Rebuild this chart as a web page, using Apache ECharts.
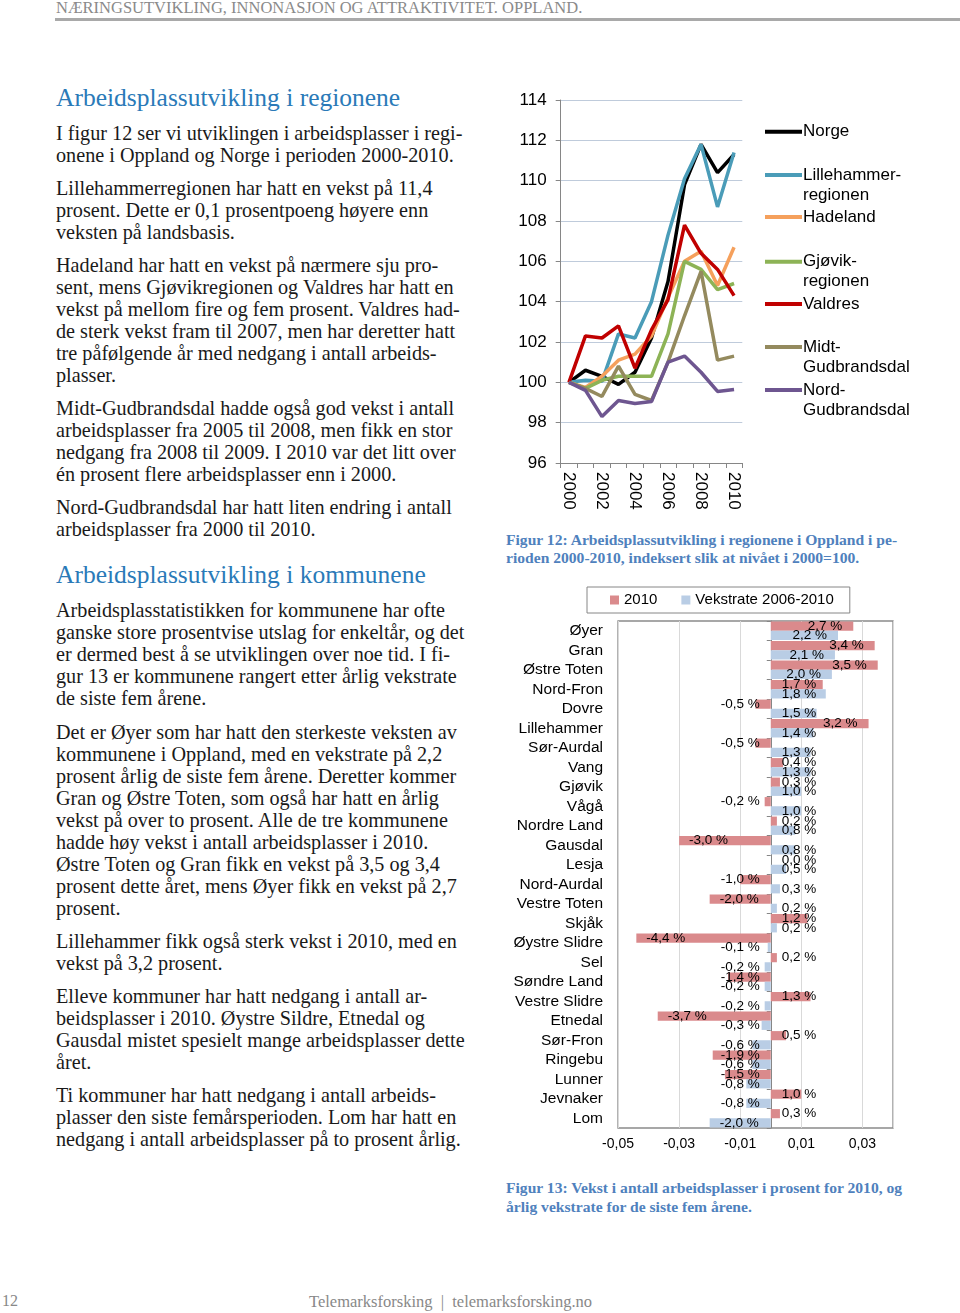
<!DOCTYPE html>
<html><head><meta charset="utf-8">
<script src="https://cdn.jsdelivr.net/npm/echarts@6/dist/echarts.min.js"></script>
<style>
body{margin:0;width:960px;height:1313px;position:relative;background:#fff;overflow:hidden}
.t{position:absolute;white-space:nowrap;font-family:"Liberation Serif","Times New Roman",serif}
.b{font-size:20.2px;line-height:22px;color:#1a1a1a;left:56px}
.h{font-size:25.5px;line-height:30px;color:#2a7ab8;left:56px}
.c{font-size:15.6px;line-height:19px;color:#4f81bd;font-weight:bold;left:506px}
#chart{position:absolute;left:0;top:0;width:960px;height:1313px}
#hdr{position:absolute;left:56px;top:-1px;font-family:"Liberation Serif",serif;font-size:16.5px;line-height:18px;color:#8a8a8a;white-space:nowrap}
#rule{position:absolute;left:55px;top:18px;width:905px;height:3px;background:#a9a9a9}
#pg{position:absolute;left:2px;top:1292px;font-family:"Liberation Serif",serif;font-size:16px;color:#888}
#ft{position:absolute;left:309px;top:1292px;font-family:"Liberation Serif",serif;font-size:16.5px;color:#888;white-space:nowrap}
</style></head><body>
<div id="hdr">NÆRINGSUTVIKLING, INNONASJON OG ATTRAKTIVITET. OPPLAND.</div>
<div id="rule"></div>
<div id="txt"></div>
<div id="pg">12</div>
<div id="ft">Telemarksforsking &nbsp;|&nbsp; telemarksforsking.no</div>
<div id="chart"></div>
<script>
// ---- Figure 12 data ----
const years = ['2000','2001','2002','2003','2004','2005','2006','2007','2008','2009','2010'];
const norge       = [100, 100.6, 100.3, 99.9, 100.5, 102.2, 105.0, 109.8, 111.8, 110.4, 111.3];
const lillehammer = [100, 100.1, 100.05, 102.4, 102.2, 104.0, 107.3, 110.1, 111.8, 108.7, 111.4];
const hadeland    = [100, 99.75, 100.3, 101.1, 101.4, 102.3, 104.2, 106.0, 106.5, 104.8, 106.7];
const gjovik      = [100, 99.7, 100.1, 100.3, 100.3, 100.3, 102.4, 106.0, 105.6, 104.6, 104.9];
const valdres     = [100, 102.3, 102.2, 102.8, 100.7, 102.6, 104.1, 107.8, 106.4, 105.6, 104.3];
const midtGud     = [100, 99.7, 99.3, 100.8, 99.4, 99.1, 101.0, 103.3, 105.5, 101.1, 101.3];
const nordGud     = [100, 99.6, 98.3, 99.1, 98.95, 99.05, 101.0, 101.3, 100.5, 99.55, 99.65];
const regionNames = ['Norge','Lillehammer-\nregionen','Hadeland','Gjøvik-\nregionen','Valdres','Midt-\nGudbrandsdal','Nord-\nGudbrandsdal'];
const regionColors = ['#000000','#4A9CB8','#F5A05C','#8DB356','#C00000','#948A5E','#6E5690'];
const regionData = [norge, lillehammer, hadeland, gjovik, valdres, midtGud, nordGud];

// ---- Figure 13 data ----
const kommuner = ['Øyer','Gran','Østre Toten','Nord-Fron','Dovre','Lillehammer','Sør-Aurdal','Vang','Gjøvik','Vågå','Nordre Land','Gausdal','Lesja','Nord-Aurdal','Vestre Toten','Skjåk','Øystre Slidre','Sel','Søndre Land','Vestre Slidre','Etnedal','Sør-Fron','Ringebu','Lunner','Jevnaker','Lom'];
const vekst2010 = [2.7, 3.4, 3.5, 1.7, -0.5, 3.2, -0.5, 0.4, 0.3, -0.2, 0.2, -3.0, 0.0, -1.0, -2.0, 1.2, -4.4, 0.2, -1.4, 1.3, -3.7, 0.5, -1.9, -1.5, 1.0, 0.3];
const vekstrate = [2.2, 2.1, 2.0, 1.8, 1.5, 1.4, 1.3, 1.3, 1.0, 1.0, 0.8, 0.8, 0.5, 0.3, 0.2, 0.2, -0.1, -0.2, -0.2, -0.2, -0.3, -0.6, -0.6, -0.8, -0.8, -2.0];

// ---- page text ----
const lines = [
 ['h',98,'Arbeidsplassutvikling i regionene'],
 ['b',133,'I figur 12 ser vi utviklingen i arbeidsplasser i regi-'],
 ['b',155,'onene i Oppland og Norge i perioden 2000-2010.'],
 ['b',188,'Lillehammerregionen har hatt en vekst på 11,4'],
 ['b',210,'prosent. Dette er 0,1 prosentpoeng høyere enn'],
 ['b',232,'veksten på landsbasis.'],
 ['b',265,'Hadeland har hatt en vekst på nærmere sju pro-'],
 ['b',287,'sent, mens Gjøvikregionen og Valdres har hatt en'],
 ['b',309,'vekst på mellom fire og fem prosent. Valdres had-'],
 ['b',331,'de sterk vekst fram til 2007, men har deretter hatt'],
 ['b',353,'tre påfølgende år med nedgang i antall arbeids-'],
 ['b',375,'plasser.'],
 ['b',408,'Midt-Gudbrandsdal hadde også god vekst i antall'],
 ['b',430,'arbeidsplasser fra 2005 til 2008, men fikk en stor'],
 ['b',452,'nedgang fra 2008 til 2009. I 2010 var det litt over'],
 ['b',474,'én prosent flere arbeidsplasser enn i 2000.'],
 ['b',507,'Nord-Gudbrandsdal har hatt liten endring i antall'],
 ['b',529,'arbeidsplasser fra 2000 til 2010.'],
 ['h',575,'Arbeidsplassutvikling i kommunene'],
 ['b',610,'Arbeidsplasstatistikken for kommunene har ofte'],
 ['b',632,'ganske store prosentvise utslag for enkeltår, og det'],
 ['b',654,'er dermed best å se utviklingen over noe tid. I fi-'],
 ['b',676,'gur 13 er kommunene rangert etter årlig vekstrate'],
 ['b',698,'de siste fem årene.'],
 ['b',732,'Det er Øyer som har hatt den sterkeste veksten av'],
 ['b',754,'kommunene i Oppland, med en vekstrate på 2,2'],
 ['b',776,'prosent årlig de siste fem årene. Deretter kommer'],
 ['b',798,'Gran og Østre Toten, som også har hatt en årlig'],
 ['b',820,'vekst på over to prosent. Alle de tre kommunene'],
 ['b',842,'hadde høy vekst i antall arbeidsplasser i 2010.'],
 ['b',864,'Østre Toten og Gran fikk en vekst på 3,5 og 3,4'],
 ['b',886,'prosent dette året, mens Øyer fikk en vekst på 2,7'],
 ['b',908,'prosent.'],
 ['b',941,'Lillehammer fikk også sterk vekst i 2010, med en'],
 ['b',963,'vekst på 3,2 prosent.'],
 ['b',996,'Elleve kommuner har hatt nedgang i antall ar-'],
 ['b',1018,'beidsplasser i 2010. Øystre Sildre, Etnedal og'],
 ['b',1040,'Gausdal mistet spesielt mange arbeidsplasser dette'],
 ['b',1062,'året.'],
 ['b',1095,'Ti kommuner har hatt nedgang i antall arbeids-'],
 ['b',1117,'plasser den siste femårsperioden. Lom har hatt en'],
 ['b',1139,'nedgang i antall arbeidsplasser på to prosent årlig.'],
 ['c',539,'Figur 12: Arbeidsplassutvikling i regionene i Oppland i pe-'],
 ['c',557,'rioden 2000-2010, indeksert slik at nivået i 2000=100.'],
 ['c',1187,'Figur 13: Vekst i antall arbeidsplasser i prosent for 2010, og'],
 ['c',1206,'årlig vekstrate for de siste fem årene.']
];
const txt = document.getElementById('txt');
const lh = {b:22, h:30, c:19};
lines.forEach(([cls, y, s]) => {
  const d = document.createElement('div');
  d.className = 't ' + cls;
  d.style.top = (y - lh[cls] / 2) + 'px';
  d.textContent = s;
  txt.appendChild(d);
});

// ---- chart ----
const FF = '"Liberation Sans", Arial, Helvetica, sans-serif';
const pct = v => (v * 100).toFixed(1).replace('.', ',') + ' %';
function barItem(p) {
  let pos, dist;
  if (p >= 0) { pos = p >= 1.85 ? 'insideRight' : 'insideLeft'; dist = 11; }
  else if (p <= -1.97) { pos = 'insideLeft'; dist = 10; }
  else { pos = 'insideRight'; dist = 11; }
  return { value: p / 100, label: { position: pos, distance: dist } };
}
const legendTops = [131.7, 175, 217, 261.7, 304, 347, 390];

const series = regionNames.map((n, i) => ({
  name: n, type: 'line', xAxisIndex: 0, yAxisIndex: 0,
  data: regionData[i], symbol: 'none', showSymbol: false,
  lineStyle: { width: 3.5, color: regionColors[i] },
  itemStyle: { color: regionColors[i] }, z: 2 + i
}));
const barLabel = { show: true, formatter: p => pct(p.value), fontSize: 13.5, color: '#000', fontFamily: FF };
series.push({
  name: '2010', type: 'bar', xAxisIndex: 1, yAxisIndex: 1,
  data: vekst2010.map(barItem), itemStyle: { color: '#DA8A8C' },
  barGap: '0%', barCategoryGap: '6%', label: barLabel, z: 3
});
series.push({
  name: 'Vekstrate 2006-2010', type: 'bar', xAxisIndex: 1, yAxisIndex: 1,
  data: vekstrate.map(barItem), itemStyle: { color: '#B9CDE5' },
  barGap: '0%', barCategoryGap: '6%', label: barLabel, z: 3
});

// icon-only legends (line swatch centred on the first text line)
const legends = regionNames.map((n, i) => ({
  data: [n], left: 765, top: legendTops[i] - 2, padding: 0,
  orient: 'vertical', icon: 'rect', itemWidth: 37, itemHeight: 4, selectedMode: false,
  formatter: () => '', textStyle: { fontSize: 1 }
}));
// text-only legends (first line aligned with swatch)
regionNames.forEach((n, i) => {
  legends.push({
    data: [n], left: 761, top: legendTops[i] - 10, padding: 0,
    orient: 'vertical', icon: 'rect', itemWidth: 37, itemHeight: 4, selectedMode: false,
    itemStyle: { opacity: 0 },
    textStyle: { fontSize: 17, color: '#000', fontFamily: FF, lineHeight: 20 }
  });
});
legends.push({
  data: ['2010', 'Vekstrate 2006-2010'], left: 587, top: 587, orient: 'horizontal',
  padding: [5, 16, 5, 23], itemGap: 24, itemWidth: 9, itemHeight: 9, icon: 'rect',
  borderColor: '#868686', borderWidth: 1, selectedMode: false,
  textStyle: { fontSize: 15, color: '#000', fontFamily: FF, lineHeight: 16 }
});

const chart = echarts.init(document.getElementById('chart'), null, { renderer: 'canvas' });
chart.setOption({
  animation: false,
  textStyle: { fontFamily: FF },
  legend: legends,
  grid: [
    { left: 560.7, top: 100, width: 181.6, height: 363 },
    { left: 618, top: 621, width: 275, height: 507, show: true, borderColor: '#8a8a8a', borderWidth: 1.3, backgroundColor: 'transparent' }
  ],
  xAxis: [
    { gridIndex: 0, type: 'category', data: years, boundaryGap: true,
      axisLine: { lineStyle: { color: '#868686' } },
      axisTick: { show: true, interval: 0, length: 5, lineStyle: { color: '#868686' } },
      axisLabel: { interval: 1, rotate: -90, fontSize: 17, color: '#000', margin: 9, fontFamily: FF },
      splitLine: { show: false } },
    { gridIndex: 1, type: 'value', min: -0.05, max: 0.04, interval: 0.02,
      axisLine: { show: false }, axisTick: { show: false },
      splitLine: { show: true, lineStyle: { color: '#D9D9D9' } },
      axisLabel: { formatter: v => v.toFixed(2).replace('.', ','), fontSize: 14, color: '#000', margin: 9, fontFamily: FF, showMaxLabel: false } }
  ],
  yAxis: [
    { gridIndex: 0, type: 'value', min: 96, max: 114, interval: 2,
      axisLine: { show: true, lineStyle: { color: '#868686' } },
      axisTick: { show: true, length: 5, lineStyle: { color: '#868686' } },
      splitLine: { lineStyle: { color: '#BFCBDB' } },
      axisLabel: { fontSize: 17, color: '#000', margin: 14, fontFamily: FF } },
    { gridIndex: 1, type: 'category', data: kommuner, inverse: true, position: 'left',
      axisLine: { show: false, onZero: false }, axisTick: { show: false },
      axisLabel: { fontSize: 15.5, color: '#000', margin: 15, interval: 0, fontFamily: FF } },
    { gridIndex: 1, type: 'category', data: kommuner, inverse: true, position: 'right',
      axisLine: { show: true, onZero: true, lineStyle: { color: '#868686' } },
      axisTick: { show: true, inside: true, length: 4, interval: 0, lineStyle: { color: '#868686' } },
      axisLabel: { show: false }, splitLine: { show: false } }
  ],
  series: series
});
</script>
</body></html>
